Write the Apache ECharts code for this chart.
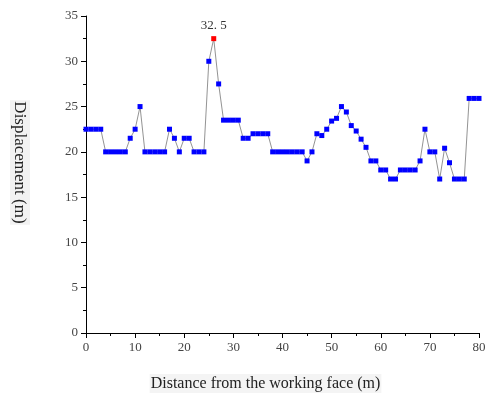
<!DOCTYPE html>
<html>
<head>
<meta charset="utf-8">
<script src="https://cdn.jsdelivr.net/npm/echarts@6/dist/echarts.min.js"></script>
<style>
  html, body { margin: 0; padding: 0; background: #fff; }
  #main { width: 489px; height: 394px; }
</style>
</head>
<body>
<div id="main"></div>
<script>
// distance from working face (m)
var distance = [];
for (var i = 0; i <= 80; i++) distance.push(i);

// displacement
var displacement = [
  22.5, 22.5, 22.5, 22.5, 20, 20, 20, 20, 20, 21.5,
  22.5, 25, 20, 20, 20, 20, 20, 22.5, 21.5, 20,
  21.5, 21.5, 20, 20, 20, 30, 32.5, 27.5, 23.5, 23.5,
  23.5, 23.5, 21.5, 21.5, 22, 22, 22, 22, 20, 20,
  20, 20, 20, 20, 20, 19, 20, 22, 21.8, 22.5,
  23.4, 23.7, 25, 24.4, 22.9, 22.3, 21.4, 20.5, 19, 19,
  18, 18, 17, 17, 18, 18, 18, 18, 19, 22.5,
  20, 20, 17, 20.4, 18.8, 17, 17, 17, 25.9, 25.9,
  25.9
];

var peakIndex = 26;

var myChart = echarts.init(document.getElementById('main'));

var font = '"Liberation Serif", "DejaVu Serif", serif';

var seriesData = distance.map(function (d, i) {
  var item = { value: [d, displacement[i]] };
  if (i === peakIndex) {
    item.itemStyle = { color: '#ff0000' };
    item.label = {
      show: true,
      position: 'top',
      distance: 4,
      formatter: function (p) { return p.value[1].toFixed(1).replace('.', '. '); },
      fontFamily: font,
      fontSize: 13,
      color: '#333'
    };
  }
  return item;
});

var option = {
  animation: false,
  grid: { left: 86, right: 10, top: 16, bottom: 61, outerBoundsMode: 'none', containLabel: false },
  xAxis: {
    type: 'value',
    min: 0, max: 80, interval: 10,
    name: '{a|Distance from the working face (m)}',
    nameLocation: 'middle',
    nameGap: 41,
    nameTextStyle: {
      padding: [0, 34, 0, 0],
      rich: {
        a: {
          fontFamily: font, fontSize: 16, color: '#222',
          backgroundColor: '#f4f4f4', padding: [2, 1, 1, 1]
        }
      }
    },
    axisLine: { show: true, onZero: false, lineStyle: { color: '#000', width: 1 } },
    axisTick: { show: true, length: 5, lineStyle: { color: '#000' } },
    minorTick: { show: true, splitNumber: 2, length: 3, lineStyle: { color: '#000' } },
    axisLabel: { fontFamily: font, fontSize: 13, color: '#444', margin: 8 },
    splitLine: { show: false }
  },
  yAxis: {
    type: 'value',
    min: 0, max: 35, interval: 5,
    name: '{a|Displacement (m)}',
    nameLocation: 'middle',
    nameRotate: -90,
    nameGap: 56,
    nameTextStyle: {
      padding: [0, 24, 0, 0],
      rich: {
        a: {
          fontFamily: font, fontSize: 17, color: '#222',
          backgroundColor: '#f2f2f2', padding: [2, 1, 1, 1]
        }
      }
    },
    axisLine: { show: true, lineStyle: { color: '#000', width: 1 } },
    axisTick: { show: true, length: 5, lineStyle: { color: '#000' } },
    minorTick: { show: true, splitNumber: 2, length: 3, lineStyle: { color: '#000' } },
    axisLabel: { fontFamily: font, fontSize: 13, color: '#444', margin: 8 },
    splitLine: { show: false }
  },
  series: [{
    type: 'line',
    data: seriesData,
    symbol: 'rect',
    symbolSize: 5,
    showAllSymbol: true,
    itemStyle: { color: '#0000ff' },
    lineStyle: { color: '#777', width: 0.8 }
  }]
};

myChart.setOption(option);
</script>
</body>
</html>
